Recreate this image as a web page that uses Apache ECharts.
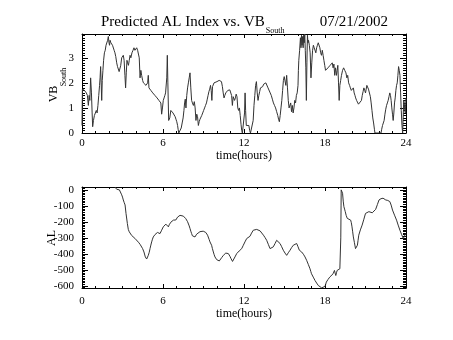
<!DOCTYPE html>
<html>
<head>
<meta charset="utf-8">
<script src="https://cdn.jsdelivr.net/npm/echarts@6/dist/echarts.min.js"></script>
<style>
  html, body { margin: 0; padding: 0; background: #fff; }
  #chart { width: 453px; height: 340px; }
</style>
</head>
<body>
<div id="chart"></div>
<script>
// Southward IMF driver VB_South (mV/m) versus UT hour
const vbTime = [
  0.00,0.03,0.10,0.18,0.25,0.32,0.40,0.47,0.53,0.58,0.64,0.70,0.75,0.79,0.85,0.92,1.00,1.06,1.12,1.18,
  1.24,1.30,1.34,1.38,1.42,1.46,1.50,1.55,1.60,1.66,1.72,1.78,1.84,1.90,1.95,2.00,2.04,2.08,2.14,2.20,
  2.26,2.32,2.38,2.44,2.50,2.57,2.63,2.69,2.75,2.81,2.87,2.94,3.00,3.06,3.12,3.18,3.23,3.28,3.33,3.38,
  3.44,3.50,3.56,3.62,3.70,3.78,3.85,3.92,3.98,4.05,4.12,4.18,4.24,4.30,4.36,4.42,4.49,4.55,4.62,4.68,
  4.74,4.80,4.86,4.91,4.96,5.03,5.10,5.16,5.24,5.33,5.40,5.48,5.56,5.63,5.70,5.78,5.84,5.90,5.96,6.02,
  6.08,6.14,6.19,6.24,6.28,6.32,6.36,6.42,6.50,6.58,6.66,6.74,6.82,6.90,6.96,7.02,7.08,7.12,7.17,7.28,
  7.35,7.42,7.49,7.55,7.60,7.65,7.70,7.76,7.82,7.88,7.94,8.00,8.06,8.12,8.18,8.25,8.32,8.38,8.44,8.50,
  8.56,8.62,8.68,8.74,8.80,8.87,8.94,9.01,9.08,9.15,9.22,9.28,9.34,9.40,9.46,9.52,9.57,9.62,9.67,9.72,
  9.78,9.85,9.92,10.00,10.08,10.16,10.25,10.33,10.40,10.46,10.52,10.58,10.65,10.72,10.80,10.88,10.95,11.02,11.08,11.14,
  11.20,11.25,11.30,11.36,11.42,11.48,11.54,11.60,11.66,11.72,11.78,11.83,11.88,12.00,12.04,12.08,12.12,12.17,12.24,12.30,
  12.36,12.42,12.48,12.62,12.68,12.74,12.80,12.86,12.92,12.98,13.04,13.10,13.16,13.22,13.30,13.38,13.46,13.54,13.62,13.70,
  13.78,13.86,13.94,14.02,14.10,14.18,14.26,14.34,14.42,14.50,14.56,14.62,14.68,14.74,14.80,14.86,14.92,14.98,15.04,15.10,
  15.16,15.22,15.28,15.34,15.40,15.46,15.52,15.58,15.64,15.70,15.76,15.82,15.88,15.94,16.00,16.03,16.06,16.12,16.18,16.22,
  16.26,16.30,16.34,16.38,16.42,16.46,16.50,16.54,16.58,16.62,16.66,16.70,16.74,16.78,16.84,16.90,16.96,17.02,17.08,17.14,
  17.20,17.26,17.32,17.38,17.44,17.50,17.56,17.62,17.68,17.74,17.80,17.86,17.92,17.98,18.04,18.10,18.16,18.22,18.30,18.38,
  18.46,18.54,18.60,18.66,18.72,18.78,18.85,18.90,18.95,19.00,19.05,19.10,19.16,19.22,19.30,19.38,19.46,19.55,19.62,19.68,
  19.75,19.82,19.88,19.95,20.02,20.10,20.16,20.22,20.27,20.34,20.40,20.48,20.55,20.62,20.70,20.76,20.82,20.88,20.94,21.00,
  21.05,21.10,21.16,21.22,21.30,21.36,21.42,21.48,21.54,21.60,21.66,21.70,22.15,22.20,22.26,22.32,22.38,22.44,22.50,22.56,
  22.62,22.68,22.74,22.80,22.85,22.90,22.95,23.00,23.05,23.10,23.15,23.20,23.25,23.30,23.35,23.40,23.45,23.50,23.55,23.60,
  23.65,23.70,23.75,23.79,23.83,23.87,23.91,23.95,23.98,24.00
];
const vbSouth = [
  0.30,1.75,1.80,1.70,1.75,1.60,1.50,1.10,1.50,1.30,2.20,1.60,0.80,0.25,0.50,0.70,0.65,0.90,0.80,1.10,
  1.50,1.90,2.20,2.65,2.00,1.30,2.10,2.50,2.90,3.20,3.30,3.50,3.45,3.70,3.85,3.60,3.50,3.70,3.60,3.62,
  3.50,3.45,3.30,3.20,3.05,2.80,2.65,2.60,2.45,2.40,2.70,3.00,3.05,3.10,2.90,2.30,1.80,2.40,2.90,2.80,
  2.70,2.90,3.10,3.00,3.20,3.30,3.40,3.30,3.35,3.40,3.30,3.35,3.00,2.20,2.50,2.30,2.10,2.00,1.95,2.00,
  1.90,1.85,2.00,2.30,1.80,1.75,1.70,1.70,1.60,1.55,1.50,1.45,1.40,1.40,1.30,1.35,1.20,0.75,1.00,1.30,
  1.40,1.50,1.60,1.65,2.20,3.10,2.00,0.50,0.60,0.90,0.85,0.80,0.75,0.65,0.55,0.45,0.30,0.15,0.00,0.00,
  0.20,0.40,0.60,0.90,1.20,1.35,1.00,1.50,1.80,2.00,2.20,2.40,1.80,1.30,1.20,1.10,1.25,1.00,0.50,0.75,
  0.65,0.30,0.45,0.55,0.60,0.70,0.80,0.90,1.00,1.10,1.20,1.35,1.50,1.65,1.75,1.90,1.70,1.30,1.85,1.90,
  2.00,1.95,2.05,2.05,2.10,2.10,2.05,2.05,1.85,1.60,1.40,1.50,1.60,1.65,1.70,1.75,1.72,1.65,1.50,1.10,
  1.45,1.50,1.30,1.40,1.55,1.45,1.00,0.90,1.00,0.70,0.35,0.10,0.00,0.00,0.80,1.60,0.90,0.30,0.35,0.25,
  0.30,0.10,0.00,0.00,0.50,1.10,1.50,1.90,2.05,1.60,1.30,1.50,1.65,1.80,1.75,1.85,1.95,1.90,2.00,1.95,
  1.80,1.85,1.60,1.50,1.35,1.20,1.10,1.00,0.85,0.70,0.55,0.45,0.70,1.00,1.30,1.70,2.10,2.25,2.20,1.90,
  2.30,1.80,1.30,1.00,0.95,1.20,0.85,1.10,0.80,1.00,1.30,1.20,1.50,1.60,1.90,2.50,2.90,3.30,3.80,3.40,
  3.90,3.50,3.85,3.40,3.90,3.60,3.95,3.30,2.60,1.30,2.80,3.90,3.60,3.70,3.50,3.20,2.20,2.80,3.30,3.50,
  3.40,3.35,3.20,3.40,3.50,3.60,3.65,3.40,3.20,3.10,3.30,3.10,2.90,2.70,2.50,2.55,2.50,2.60,2.55,2.70,
  2.75,2.80,2.60,2.75,2.30,2.60,2.30,2.50,2.70,2.00,1.30,1.90,2.10,2.30,2.50,2.60,2.50,2.40,2.20,2.30,
  2.00,1.90,1.80,1.70,1.75,1.80,1.60,1.50,1.40,1.30,1.25,1.15,1.10,1.20,1.30,1.50,1.65,1.80,1.70,1.60,
  1.75,1.90,1.85,1.75,1.70,1.45,1.20,0.90,0.60,0.40,0.15,0.00,0.00,0.15,0.30,0.40,0.50,0.75,0.95,1.10,
  1.20,1.30,1.45,1.60,1.50,1.30,1.00,0.75,0.50,0.80,1.20,1.40,1.70,1.90,2.00,2.30,2.65,2.50,2.30,1.60,
  0.90,0.30,0.00,0.60,1.30,1.20,0.90,0.80,1.20,1.40
];

// Predicted AL index (nT) versus UT hour
const alTime = [
  2.44,2.57,2.70,2.77,2.86,2.94,3.00,3.06,3.12,3.19,3.26,3.36,3.43,3.50,3.56,3.68,3.80,3.92,4.05,4.18,
  4.30,4.40,4.49,4.59,4.69,4.79,4.85,4.91,4.98,5.04,5.10,5.16,5.22,5.28,5.35,5.41,5.47,5.53,5.59,5.65,
  5.71,5.78,5.84,5.90,5.96,6.02,6.08,6.15,6.21,6.27,6.33,6.40,6.46,6.52,6.58,6.64,6.71,6.77,6.83,6.89,
  6.95,7.01,7.08,7.14,7.20,7.26,7.38,7.51,7.57,7.63,7.69,7.75,7.82,7.88,7.94,8.00,8.06,8.12,8.18,8.25,
  8.31,8.37,8.43,8.49,8.56,8.62,8.74,8.86,8.98,9.11,9.17,9.23,9.30,9.36,9.42,9.48,9.54,9.60,9.66,9.73,
  9.79,9.85,9.92,9.98,10.07,10.17,10.27,10.31,10.35,10.41,10.47,10.53,10.59,10.65,10.72,10.78,10.84,10.90,10.96,11.03,
  11.09,11.15,11.21,11.27,11.33,11.40,11.46,11.52,11.58,11.64,11.70,11.76,11.83,11.89,11.95,12.01,12.07,12.13,12.20,12.26,
  12.32,12.44,12.56,12.69,12.81,12.94,13.06,13.19,13.31,13.44,13.56,13.68,13.80,13.93,14.05,14.17,14.30,14.42,14.55,14.67,
  14.79,14.91,15.04,15.16,15.28,15.41,15.53,15.65,15.78,15.90,16.00,16.10,16.19,16.27,16.40,16.52,16.58,16.64,16.76,16.89,
  16.95,17.00,17.13,17.26,17.38,17.50,17.62,17.75,17.87,18.00,18.05,18.10,18.22,18.35,18.48,18.60,18.65,18.70,18.75,18.80,
  18.85,18.90,19.00,19.10,19.15,19.17,19.19,19.20,19.25,19.30,19.35,19.40,19.45,19.50,19.57,19.65,19.78,19.90,19.95,20.00,
  20.05,20.10,20.18,20.26,20.33,20.40,20.45,20.50,20.62,20.75,20.88,21.00,21.12,21.25,21.38,21.50,21.62,21.75,21.88,22.00,
  22.15,22.30,22.40,22.50,22.65,22.80,22.90,23.00,23.15,23.30,23.42,23.55,23.68,23.80,23.88,23.97,24.00
];
const alIndex = [
  18,4,2,0,-4,-31,-45,-63,-78,-94,-147,-210,-247,-262,-273,-285,-294,-303,-315,-327,
  -340,-352,-367,-388,-419,-432,-425,-409,-390,-367,-345,-325,-308,-294,-285,-279,-272,-268,-266,-262,
  -266,-273,-262,-252,-240,-231,-226,-220,-214,-210,-220,-231,-218,-206,-202,-199,-193,-189,-195,-199,
  -188,-178,-170,-164,-161,-159,-160,-164,-168,-172,-180,-189,-199,-210,-225,-241,-258,-273,-287,-298,
  -299,-294,-285,-277,-272,-268,-261,-256,-258,-262,-266,-273,-283,-294,-310,-325,-335,-346,-367,-388,
  -405,-419,-430,-436,-441,-444,-444,-434,-423,-415,-409,-403,-398,-395,-394,-395,-398,-405,-415,-428,
  -440,-447,-451,-435,-419,-408,-398,-393,-388,-382,-377,-372,-367,-356,-346,-336,-325,-315,-304,-298,
  -294,-290,-270,-252,-248,-247,-250,-256,-268,-283,-298,-315,-340,-367,-362,-356,-335,-315,-325,-335,
  -355,-377,-395,-409,-393,-377,-360,-346,-340,-335,-355,-377,-383,-388,-402,-419,-430,-440,-465,-493,
  -510,-524,-545,-566,-582,-597,-605,-612,-609,-603,-590,-576,-560,-545,-535,-524,-512,-503,-520,-535,
  -518,-503,-498,-493,-482,-300,-100,0,-10,-21,-70,-105,-120,-136,-160,-178,-185,-189,-205,-231,
  -262,-294,-330,-367,-358,-346,-315,-283,-250,-220,-183,-147,-140,-136,-140,-143,-135,-122,-92,-63,
  -55,-52,-58,-63,-66,-73,-95,-126,-158,-189,-220,-252,-280,-304,-290,-273,-275
];

// Axis extents and labelled tick values
const hourRange = [0, 24];
const vbRange = [0, 3.95];
const alRange = [-613, 18];
const hourTicks = [0, 6, 12, 18, 24];
const vbTicks = [0, 1, 2, 3];
const alTicks = [-600, -500, -400, -300, -200, -100, 0];

// Minor tick positions between the labelled ticks
function minorTicks(range, step, majorStep) {
  const out = [];
  const n0 = Math.ceil(range[0] / step - 1e-9);
  const n1 = Math.floor(range[1] / step + 1e-9);
  const per = Math.round(majorStep / step);
  for (let n = n0; n <= n1; n++) {
    if (n % per !== 0) out.push(+(n * step).toFixed(6));
  }
  return out;
}
const hourMinor = minorTicks(hourRange, 1, 6);
const vbMinor = minorTicks(vbRange, 0.1, 1);
const alMinor = minorTicks(alRange, 10, 100);

const FONT = 'Liberation Serif';
const INK = '#000';
const TRACE = '#333';

function axis(o) {
  return {
    type: 'value',
    gridIndex: o.grid,
    position: o.pos,
    min: o.range[0],
    max: o.range[1],
    axisLine: { show: !!o.line, onZero: false, lineStyle: { color: INK, width: 1 } },
    axisTick: {
      show: true, inside: true, length: o.len, customValues: o.ticks,
      lineStyle: { color: INK, width: 1 }
    },
    minorTick: { show: false },
    axisLabel: o.labels ? {
      show: true, customValues: o.ticks, margin: o.margin,
      fontFamily: FONT, fontSize: 11, color: INK,
      formatter: v => String(v)
    } : { show: false },
    splitLine: { show: false },
    name: o.name || '',
    nameLocation: 'middle',
    nameGap: o.nameGap || 0,
    nameTextStyle: { fontFamily: FONT, fontSize: 12, color: INK },
    axisPointer: { show: false },
    silent: true
  };
}

function xAxesFor(grid, labelMargin, nameGap) {
  return [
    axis({ grid, pos: 'bottom', range: hourRange, ticks: hourTicks, len: 4, line: true,
           labels: true, margin: labelMargin, name: 'time(hours)', nameGap }),
    axis({ grid, pos: 'bottom', range: hourRange, ticks: hourMinor, len: 2 }),
    axis({ grid, pos: 'top', range: hourRange, ticks: hourTicks, len: 4, line: true }),
    axis({ grid, pos: 'top', range: hourRange, ticks: hourMinor, len: 2 })
  ];
}
function yAxesFor(grid, range, ticks, minor) {
  return [
    axis({ grid, pos: 'left', range, ticks, len: 6, line: true, labels: true, margin: 8 }),
    axis({ grid, pos: 'left', range, ticks: minor, len: 3 }),
    axis({ grid, pos: 'right', range, ticks, len: 6, line: true }),
    axis({ grid, pos: 'right', range, ticks: minor, len: 3 })
  ];
}

function pairs(xs, ys) { return xs.map((x, i) => [x, ys[i]]); }

// Title pieces: main text, subscript and date
const titleMain = 'Predicted AL Index vs. VB';
const titleSub = 'South';
const titleDate = '07/21/2002';
const TITLE_SIZE = 15;
const ctx = document.createElement('canvas').getContext('2d');
ctx.font = TITLE_SIZE + 'px "' + FONT + '"';
const titleMainWidth = ctx.measureText(titleMain).width;

function txt(text, x, y, size, rot, align) {
  const a = align || 'left';
  return {
    type: 'text', x, y, rotation: rot || 0, silent: true,
    style: {
      text, fill: INK, font: size + 'px "' + FONT + '"',
      align: a, verticalAlign: 'middle',
      textAlign: a, textVerticalAlign: 'middle'
    }
  };
}

const chart = echarts.init(document.getElementById('chart'), null, { renderer: 'canvas' });
chart.setOption({
  animation: false,
  backgroundColor: '#fff',
  grid: [
    { left: 82, right: 47, top: 34, height: 99, show: false },
    { left: 82, right: 47, top: 187, height: 101, show: false }
  ],
  xAxis: [].concat(xAxesFor(0, 5, 16), xAxesFor(1, 8, 16)),
  yAxis: [].concat(yAxesFor(0, vbRange, vbTicks, vbMinor), yAxesFor(1, alRange, alTicks, alMinor)),
  series: [
    {
      type: 'line', xAxisIndex: 0, yAxisIndex: 0,
      data: pairs(vbTime, vbSouth),
      showSymbol: false, symbol: 'none', clip: true,
      lineStyle: { color: TRACE, width: 1 }
    },
    {
      type: 'line', xAxisIndex: 4, yAxisIndex: 4,
      data: pairs(alTime, alIndex),
      showSymbol: false, symbol: 'none', clip: true,
      lineStyle: { color: TRACE, width: 1 }
    }
  ],
  graphic: [
    txt(titleMain, 101, 22, TITLE_SIZE),
    txt(titleSub, 101 + titleMainWidth + 1, 31, 8),
    txt(titleDate, 388, 22, TITLE_SIZE, 0, 'right'),
    txt('VB', 54, 94, 12, Math.PI / 2, 'center'),
    txt('South', 64, 77, 8, Math.PI / 2, 'center'),
    txt('AL', 52, 238, 12, Math.PI / 2, 'center')
  ]
});
</script>
</body>
</html>
